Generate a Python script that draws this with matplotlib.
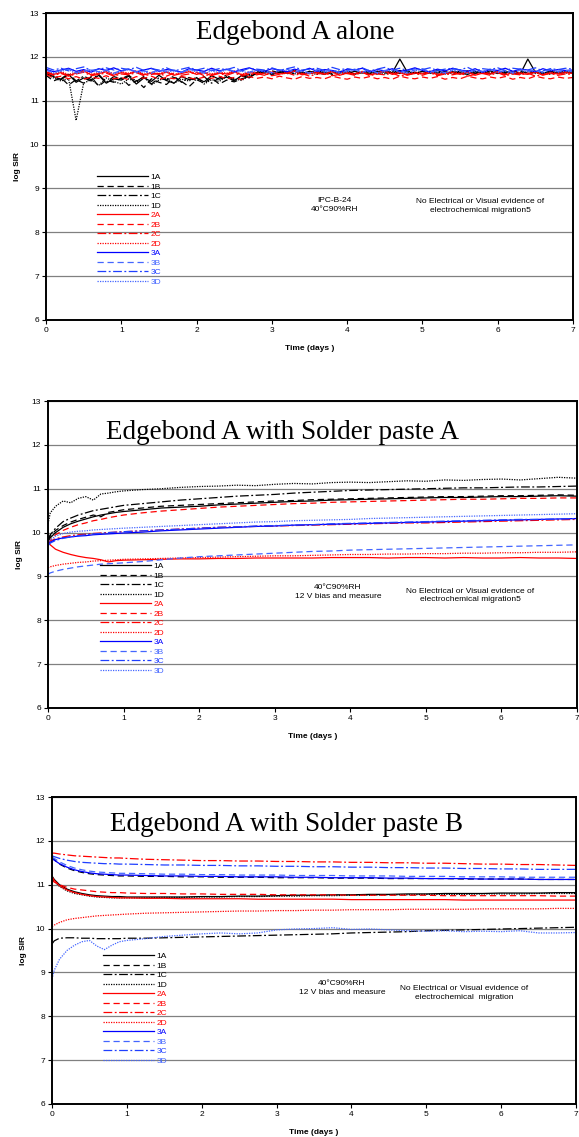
import numpy as np
import matplotlib
matplotlib.use("Agg")
import matplotlib.pyplot as plt

# ---------------- data (log SIR) ----------------
labels = ["1A", "1B", "1C", "1D", "2A", "2B", "2C", "2D", "3A", "3B", "3C", "3D"]
styles = ["-", (0, (5, 3)), (0, (7, 2, 1.5, 2)), (0, (1, 1))] * 3
colors = ["black"] * 4 + ["#ff0000"] * 4 + ["#0000ff", "#4466ff", "#1f3fff", "#4466ff"]

# panel 1: Edgebond A alone, sampled every 0.1 day
t1 = [i / 10 for i in range(71)]
p1 = {
    "1A": [11.62, 11.55, 11.48, 11.60, 11.42, 11.52, 11.45, 11.58, 11.40, 11.50,
           11.47, 11.56, 11.38, 11.52, 11.44, 11.58, 11.46, 11.40, 11.55, 11.48,
           11.52, 11.43, 11.57, 11.49, 11.54, 11.45, 11.58, 11.52,
           11.64, 11.68, 11.62, 11.66, 11.63, 11.69, 11.61, 11.67, 11.64, 11.60, 11.68, 11.65,
           11.62, 11.67, 11.63, 11.66, 11.61, 11.68, 11.64, 11.95, 11.65, 11.62,
           11.67, 11.63, 11.69, 11.62, 11.66, 11.64, 11.60, 11.67, 11.63, 11.68,
           11.62, 11.66, 11.64, 11.61, 11.95, 11.65, 11.62, 11.68, 11.63, 11.66, 11.64],
    "1B": [11.58, 11.45, 11.52, 11.36, 11.48, 11.40, 11.55, 11.33, 11.47, 11.42,
           11.52, 11.35, 11.46, 11.30, 11.50, 11.42, 11.37, 11.53, 11.44, 11.32,
           11.48, 11.40, 11.52, 11.38, 11.47, 11.43, 11.50, 11.55,
           11.62, 11.66, 11.60, 11.65, 11.68, 11.61, 11.64, 11.67, 11.62, 11.66, 11.60, 11.65,
           11.68, 11.62, 11.65, 11.61, 11.67, 11.63, 11.66, 11.62, 11.68, 11.64,
           11.61, 11.66, 11.63, 11.67, 11.60, 11.65, 11.68, 11.62, 11.66, 11.63,
           11.67, 11.61, 11.65, 11.68, 11.62, 11.66, 11.63, 11.67, 11.61, 11.65, 11.64],
    "1C": [11.65, 11.58, 11.50, 11.62, 11.45, 11.56, 11.48, 11.60, 11.42, 11.55,
           11.50, 11.58, 11.44, 11.55, 11.38, 11.52, 11.47, 11.56, 11.42, 11.53,
           11.46, 11.55, 11.40, 11.52, 11.58, 11.47, 11.55, 11.60,
           11.66, 11.63, 11.68, 11.64, 11.61, 11.67, 11.65, 11.62, 11.69, 11.64,
           11.66, 11.63, 11.67, 11.61, 11.65, 11.68, 11.62, 11.66, 11.64, 11.69,
           11.63, 11.65, 11.61, 11.67, 11.64, 11.66, 11.62, 11.68, 11.65, 11.63,
           11.67, 11.61, 11.66, 11.64, 11.68, 11.62, 11.65, 11.67, 11.63, 11.66,
           11.64, 11.68, 11.65],
    "1D": [11.60, 11.52, 11.45, 11.50, 10.55, 11.40, 11.48, 11.35, 11.52, 11.44,
           11.38, 11.50, 11.42, 11.55, 11.36, 11.47, 11.52, 11.40, 11.49, 11.45,
           11.53, 11.38, 11.48, 11.44, 11.55, 11.50, 11.46, 11.58,
           11.62, 11.66, 11.60, 11.64, 11.67, 11.61, 11.65, 11.63, 11.60, 11.66,
           11.62, 11.68, 11.63, 11.60, 11.65, 11.62, 11.67, 11.61, 11.64, 11.66,
           11.60, 11.63, 11.67, 11.62, 11.65, 11.61, 11.66, 11.63, 11.60, 11.67,
           11.62, 11.65, 11.63, 11.68, 11.61, 11.64, 11.66, 11.62, 11.65, 11.60,
           11.67, 11.63, 11.65],
    "2A": [11.66, 11.60, 11.64, 11.57, 11.63, 11.68, 11.59, 11.62, 11.66, 11.58,
           11.64, 11.61, 11.67, 11.59, 11.63, 11.60, 11.65, 11.58, 11.62, 11.66,
           11.60, 11.64, 11.57, 11.63, 11.61, 11.66, 11.59, 11.64, 11.62, 11.58,
           11.65, 11.61, 11.63, 11.67, 11.59, 11.62, 11.64, 11.60, 11.66, 11.58,
           11.63, 11.61, 11.65, 11.59, 11.62, 11.67, 11.60, 11.64, 11.58, 11.63,
           11.61, 11.66, 11.59, 11.62, 11.64, 11.60, 11.65, 11.58, 11.63, 11.61,
           11.66, 11.59, 11.64, 11.62, 11.60, 11.65, 11.58, 11.63, 11.61, 11.64, 11.62],
    "2B": [11.60, 11.52, 11.56, 11.50, 11.55, 11.49, 11.54, 11.51, 11.57, 11.50,
           11.53, 11.48, 11.55, 11.51, 11.56, 11.49, 11.53, 11.50, 11.55, 11.52,
           11.49, 11.54, 11.51, 11.56, 11.50, 11.53, 11.48, 11.55, 11.51, 11.54,
           11.50, 11.56, 11.52, 11.49, 11.55, 11.51, 11.53, 11.50, 11.56, 11.52,
           11.49, 11.54, 11.51, 11.55, 11.50, 11.53, 11.49, 11.56, 11.52, 11.50,
           11.54, 11.51, 11.55, 11.49, 11.53, 11.50, 11.56, 11.52, 11.50, 11.54,
           11.51, 11.55, 11.49, 11.53, 11.50, 11.56, 11.52, 11.50, 11.54, 11.51, 11.53],
    "2C": [11.64, 11.58, 11.62, 11.56, 11.61, 11.65, 11.57, 11.60, 11.63, 11.56,
           11.61, 11.59, 11.64, 11.57, 11.60, 11.62, 11.56, 11.63, 11.58, 11.61,
           11.65, 11.57, 11.60, 11.62, 11.58, 11.64, 11.56, 11.61, 11.59, 11.63,
           11.57, 11.60, 11.64, 11.58, 11.62, 11.56, 11.61, 11.63, 11.57, 11.60,
           11.62, 11.58, 11.65, 11.57, 11.61, 11.59, 11.63, 11.56, 11.60, 11.62,
           11.58, 11.64, 11.57, 11.61, 11.59, 11.63, 11.56, 11.60, 11.62, 11.58,
           11.64, 11.57, 11.61, 11.59, 11.63, 11.56, 11.60, 11.62, 11.58, 11.61, 11.60],
    "2D": [11.68, 11.62, 11.66, 11.60, 11.65, 11.69, 11.61, 11.64, 11.67, 11.62,
           11.66, 11.63, 11.68, 11.61, 11.65, 11.62, 11.67, 11.60, 11.64, 11.68,
           11.62, 11.66, 11.61, 11.65, 11.63, 11.68, 11.60, 11.66, 11.64, 11.62,
           11.67, 11.61, 11.65, 11.69, 11.62, 11.64, 11.66, 11.61, 11.68, 11.63,
           11.65, 11.62, 11.67, 11.60, 11.64, 11.68, 11.62, 11.66, 11.61, 11.65,
           11.63, 11.67, 11.61, 11.64, 11.66, 11.62, 11.68, 11.60, 11.65, 11.63,
           11.67, 11.61, 11.66, 11.64, 11.62, 11.67, 11.60, 11.65, 11.63, 11.66, 11.64],
    "3A": [11.72, 11.66, 11.70, 11.74, 11.67, 11.71, 11.65, 11.73, 11.69, 11.75,
           11.68, 11.72, 11.66, 11.70, 11.74, 11.67, 11.71, 11.69, 11.65, 11.73,
           11.70, 11.67, 11.74, 11.68, 11.72, 11.66, 11.71, 11.75, 11.69, 11.67,
           11.73, 11.70, 11.66, 11.72, 11.68, 11.74, 11.67, 11.71, 11.69, 11.65,
           11.72, 11.70, 11.74, 11.66, 11.71, 11.68, 11.73, 11.67, 11.70, 11.75,
           11.69, 11.66, 11.72, 11.68, 11.74, 11.70, 11.67, 11.73, 11.65, 11.71,
           11.69, 11.74, 11.67, 11.72, 11.70, 11.66, 11.73, 11.68, 11.71, 11.69, 11.70],
    "3B": [11.70, 11.65, 11.69, 11.72, 11.64, 11.68, 11.71, 11.66, 11.70, 11.63,
           11.69, 11.73, 11.66, 11.68, 11.64, 11.71, 11.67, 11.70, 11.65, 11.72,
           11.68, 11.64, 11.70, 11.66, 11.73, 11.67, 11.69, 11.65, 11.71, 11.68,
           11.64, 11.70, 11.72, 11.66, 11.69, 11.63, 11.71, 11.67, 11.70, 11.65,
           11.68, 11.72, 11.66, 11.70, 11.64, 11.69, 11.71, 11.67, 11.65, 11.70,
           11.73, 11.66, 11.68, 11.64, 11.71, 11.69, 11.65, 11.70, 11.67, 11.72,
           11.66, 11.69, 11.64, 11.71, 11.68, 11.70, 11.65, 11.72, 11.67, 11.69, 11.68],
    "3C": [11.76, 11.70, 11.74, 11.68, 11.73, 11.77, 11.69, 11.72, 11.75, 11.70,
           11.74, 11.71, 11.76, 11.69, 11.73, 11.70, 11.75, 11.68, 11.72, 11.76,
           11.70, 11.74, 11.69, 11.73, 11.71, 11.76, 11.68, 11.74, 11.72, 11.70,
           11.75, 11.69, 11.73, 11.77, 11.70, 11.72, 11.74, 11.69, 11.76, 11.71,
           11.73, 11.70, 11.75, 11.68, 11.72, 11.76, 11.70, 11.74, 11.69, 11.73,
           11.71, 11.75, 11.69, 11.72, 11.74, 11.70, 11.76, 11.68, 11.73, 11.71,
           11.75, 11.69, 11.74, 11.72, 11.70, 11.75, 11.68, 11.73, 11.71, 11.74, 11.72],
    "3D": [11.69, 11.63, 11.67, 11.71, 11.62, 11.66, 11.70, 11.64, 11.68, 11.61,
           11.67, 11.71, 11.64, 11.66, 11.62, 11.69, 11.65, 11.68, 11.63, 11.70,
           11.66, 11.62, 11.68, 11.64, 11.71, 11.65, 11.67, 11.63, 11.69, 11.66,
           11.62, 11.68, 11.70, 11.64, 11.67, 11.61, 11.69, 11.65, 11.68, 11.63,
           11.66, 11.70, 11.64, 11.68, 11.62, 11.67, 11.69, 11.65, 11.63, 11.68,
           11.71, 11.64, 11.66, 11.62, 11.69, 11.67, 11.63, 11.68, 11.65, 11.70,
           11.64, 11.67, 11.62, 11.69, 11.66, 11.68, 11.63, 11.70, 11.65, 11.67, 11.66],
}

# panels 2 and 3 share this time grid (days)
t23 = [0, 0.03, 0.1, 0.2, 0.3, 0.4, 0.5, 0.6, 0.7, 0.8, 0.9, 1.0,
       1.25, 1.5, 1.75, 2.0, 2.25, 2.5, 2.75, 3.0, 3.25, 3.5, 3.75, 4.0,
       4.25, 4.5, 4.75, 5.0, 5.25, 5.5, 5.75, 6.0, 6.25, 6.5, 6.75, 7.0]

# panel 2: Edgebond A with Solder paste A
p2 = {
    "1A": [9.80, 9.88, 10.00, 10.12, 10.20, 10.26, 10.31, 10.36, 10.40, 10.43, 10.46, 10.48,
           10.52, 10.56, 10.58, 10.60, 10.63, 10.65, 10.67, 10.69, 10.71, 10.72, 10.74, 10.75,
           10.76, 10.77, 10.78, 10.79, 10.80, 10.80, 10.81, 10.82, 10.82, 10.83, 10.84, 10.83],
    "1B": [9.82, 9.92, 10.05, 10.16, 10.24, 10.30, 10.35, 10.40, 10.36, 10.46, 10.49, 10.52,
           10.56, 10.60, 10.62, 10.64, 10.66, 10.68, 10.70, 10.72, 10.73, 10.75, 10.76, 10.77,
           10.78, 10.79, 10.80, 10.81, 10.82, 10.82, 10.83, 10.84, 10.84, 10.85, 10.86, 10.85],
    "1C": [9.85, 9.95, 10.10, 10.25, 10.33, 10.40, 10.45, 10.50, 10.53, 10.56, 10.59, 10.62,
           10.66, 10.70, 10.74, 10.77, 10.80, 10.83, 10.85, 10.87, 10.90, 10.92, 10.94, 10.96,
           10.97, 10.98, 10.99, 11.00, 11.01, 11.02, 11.02, 11.03, 11.04, 11.04, 11.05, 11.06],
    "1D": [10.20, 10.45, 10.60, 10.72, 10.68, 10.78, 10.82, 10.74, 10.88, 10.90, 10.93, 10.95,
           10.98, 11.00, 11.03, 11.05, 11.06, 11.08, 11.07, 11.10, 11.12, 11.11, 11.14, 11.15,
           11.14, 11.16, 11.18, 11.17, 11.20, 11.19, 11.21, 11.22, 11.20, 11.23, 11.26, 11.24],
    "2A": [9.80, 9.72, 9.62, 9.55, 9.50, 9.46, 9.43, 9.41, 9.38, 9.33, 9.36, 9.37,
           9.38, 9.39, 9.40, 9.40, 9.41, 9.41, 9.42, 9.42, 9.42, 9.42, 9.43, 9.43,
           9.43, 9.42, 9.43, 9.43, 9.42, 9.43, 9.42, 9.42, 9.43, 9.42, 9.42, 9.41],
    "2B": [9.75, 9.82, 9.95, 10.05, 10.12, 10.18, 10.22, 10.27, 10.30, 10.34, 10.37, 10.40,
           10.45, 10.49, 10.52, 10.55, 10.58, 10.60, 10.62, 10.64, 10.66, 10.67, 10.69, 10.70,
           10.71, 10.72, 10.73, 10.74, 10.75, 10.76, 10.76, 10.77, 10.78, 10.78, 10.79, 10.79],
    "2C": [9.75, 9.80, 9.86, 9.90, 9.93, 9.95, 9.96, 9.98, 9.99, 10.00, 10.01, 10.02,
           10.04, 10.06, 10.08, 10.10, 10.12, 10.13, 10.14, 10.15, 10.16, 10.17, 10.18, 10.19,
           10.20, 10.21, 10.22, 10.22, 10.23, 10.24, 10.25, 10.26, 10.27, 10.28, 10.29, 10.30],
    "2D": [9.20, 9.22, 9.25, 9.28, 9.30, 9.32, 9.33, 9.35, 9.36, 9.37, 9.38, 9.39,
           9.40, 9.41, 9.42, 9.43, 9.44, 9.45, 9.46, 9.47, 9.47, 9.48, 9.49, 9.50,
           9.50, 9.51, 9.51, 9.52, 9.52, 9.53, 9.53, 9.54, 9.54, 9.55, 9.55, 9.56],
    "3A": [9.72, 9.78, 9.84, 9.88, 9.90, 9.92, 9.93, 9.95, 9.96, 9.97, 9.98, 9.99,
           10.01, 10.04, 10.06, 10.08, 10.10, 10.12, 10.14, 10.15, 10.17, 10.18, 10.19, 10.20,
           10.21, 10.22, 10.23, 10.24, 10.25, 10.26, 10.27, 10.28, 10.29, 10.30, 10.31, 10.32],
    "3B": [9.05, 9.08, 9.12, 9.16, 9.19, 9.22, 9.24, 9.26, 9.28, 9.29, 9.30, 9.31,
           9.34, 9.38, 9.42, 9.45, 9.47, 9.49, 9.51, 9.53, 9.55, 9.57, 9.58, 9.60,
           9.61, 9.62, 9.63, 9.64, 9.65, 9.66, 9.67, 9.68, 9.69, 9.70, 9.71, 9.72],
    "3C": [9.70, 9.76, 9.82, 9.87, 9.90, 9.93, 9.95, 9.97, 9.98, 10.00, 10.01, 10.02,
           10.04, 10.06, 10.08, 10.10, 10.12, 10.13, 10.15, 10.16, 10.17, 10.18, 10.20, 10.21,
           10.22, 10.23, 10.24, 10.25, 10.26, 10.27, 10.28, 10.29, 10.30, 10.30, 10.31, 10.32],
    "3D": [9.75, 9.82, 9.92, 9.98, 10.01, 10.03, 10.04, 10.06, 10.07, 10.08, 10.09, 10.10,
           10.12, 10.14, 10.16, 10.18, 10.20, 10.22, 10.24, 10.25, 10.27, 10.28, 10.29, 10.30,
           10.32, 10.33, 10.34, 10.35, 10.36, 10.37, 10.38, 10.39, 10.40, 10.41, 10.42, 10.43],
}

# panel 3: Edgebond A with Solder paste B
p3 = {
    "1A": [11.20, 11.12, 11.00, 10.90, 10.84, 10.80, 10.77, 10.75, 10.74, 10.73, 10.73, 10.72,
           10.72, 10.72, 10.72, 10.73, 10.73, 10.74, 10.74, 10.75, 10.76, 10.76, 10.77, 10.77,
           10.78, 10.78, 10.79, 10.79, 10.80, 10.80, 10.80, 10.81, 10.81, 10.81, 10.82, 10.82],
    "1B": [11.62, 11.57, 11.47, 11.38, 11.32, 11.28, 11.25, 11.23, 11.22, 11.21, 11.20, 11.20,
           11.19, 11.19, 11.18, 11.18, 11.17, 11.17, 11.17, 11.16, 11.16, 11.16, 11.15, 11.15,
           11.15, 11.14, 11.14, 11.14, 11.14, 11.13, 11.13, 11.13, 11.13, 11.12, 11.12, 11.12],
    "1C": [9.65, 9.72, 9.78, 9.79, 9.79, 9.78, 9.78, 9.77, 9.77, 9.77, 9.77, 9.78,
           9.78, 9.79, 9.80, 9.81, 9.82, 9.83, 9.84, 9.85, 9.86, 9.87, 9.88, 9.90,
           9.91, 9.92, 9.93, 9.95, 9.96, 9.97, 9.98, 9.99, 10.00, 10.01, 10.02, 10.03],
    "1D": [11.15, 11.08, 10.96, 10.86, 10.80, 10.77, 10.74, 10.72, 10.71, 10.70, 10.70, 10.70,
           10.70, 10.71, 10.71, 10.72, 10.72, 10.73, 10.73, 10.74, 10.74, 10.75, 10.75, 10.76,
           10.76, 10.77, 10.77, 10.78, 10.78, 10.78, 10.79, 10.79, 10.79, 10.80, 10.80, 10.80],
    "2A": [11.18, 11.10, 10.98, 10.88, 10.82, 10.78, 10.75, 10.73, 10.72, 10.71, 10.70, 10.70,
           10.69, 10.69, 10.68, 10.68, 10.68, 10.68, 10.67, 10.67, 10.67, 10.67, 10.67, 10.66,
           10.66, 10.66, 10.66, 10.66, 10.66, 10.65, 10.65, 10.65, 10.65, 10.65, 10.65, 10.65],
    "2B": [11.10, 11.06, 11.00, 10.94, 10.90, 10.88, 10.86, 10.84, 10.83, 10.82, 10.82, 10.81,
           10.80, 10.80, 10.79, 10.79, 10.78, 10.78, 10.78, 10.77, 10.77, 10.77, 10.77, 10.76,
           10.76, 10.76, 10.76, 10.76, 10.75, 10.75, 10.75, 10.75, 10.75, 10.75, 10.74, 10.74],
    "2C": [11.72, 11.72, 11.70, 11.68, 11.66, 11.65, 11.64, 11.63, 11.62, 11.61, 11.61, 11.60,
           11.58, 11.57, 11.56, 11.55, 11.55, 11.54, 11.54, 11.53, 11.53, 11.52, 11.52, 11.51,
           11.51, 11.50, 11.50, 11.49, 11.49, 11.48, 11.47, 11.47, 11.46, 11.46, 11.45, 11.44],
    "2D": [10.05, 10.08, 10.14, 10.20, 10.23, 10.25, 10.27, 10.29, 10.30, 10.31, 10.32, 10.33,
           10.35, 10.36, 10.37, 10.38, 10.39, 10.40, 10.40, 10.41, 10.41, 10.42, 10.42, 10.43,
           10.43, 10.43, 10.44, 10.44, 10.44, 10.44, 10.45, 10.45, 10.45, 10.45, 10.46, 10.46],
    "3A": [11.60, 11.56, 11.48, 11.40, 11.34, 11.30, 11.27, 11.25, 11.24, 11.23, 11.22, 11.22,
           11.21, 11.20, 11.20, 11.19, 11.19, 11.18, 11.18, 11.18, 11.17, 11.17, 11.16, 11.16,
           11.16, 11.15, 11.15, 11.14, 11.14, 11.14, 11.13, 11.13, 11.13, 11.12, 11.12, 11.12],
    "3B": [11.63, 11.60, 11.52, 11.44, 11.38, 11.34, 11.31, 11.29, 11.28, 11.27, 11.26, 11.26,
           11.25, 11.24, 11.24, 11.23, 11.23, 11.22, 11.22, 11.22, 11.21, 11.21, 11.21, 11.20,
           11.20, 11.20, 11.19, 11.19, 11.19, 11.18, 11.18, 11.18, 11.17, 11.17, 11.17, 11.17],
    "3C": [11.66, 11.64, 11.60, 11.56, 11.53, 11.51, 11.50, 11.49, 11.48, 11.48, 11.47, 11.47,
           11.46, 11.45, 11.45, 11.44, 11.44, 11.43, 11.43, 11.42, 11.42, 11.41, 11.41, 11.40,
           11.40, 11.39, 11.39, 11.38, 11.38, 11.37, 11.37, 11.36, 11.36, 11.35, 11.35, 11.35],
    "3D": [8.85, 9.05, 9.30, 9.50, 9.62, 9.70, 9.73, 9.60, 9.52, 9.62, 9.70, 9.73,
           9.77, 9.82, 9.85, 9.88, 9.90, 9.88, 9.90, 9.97, 9.99, 10.00, 10.02, 9.98,
           9.99, 9.97, 9.95, 9.94, 9.95, 9.93, 9.94, 9.93, 9.95, 9.90, 9.90, 9.91],
}

titles = ["Edgebond A alone", "Edgebond A with Solder paste A", "Edgebond A with Solder paste B"]
cond_text = ["IPC-B-24\n40°C90%RH", "40°C90%RH\n12 V bias and measure", "40°C90%RH\n12 V bias and measure"]
note_text = ["No Electrical or Visual evidence of\nelectrochemical migration5",
             "No Electrical or Visual evidence of\nelectrochemical migration5",
             "No Electrical or Visual evidence of\nelectrochemical  migration"]

# ---------------- layout ----------------
plt.rcParams["font.family"] = ["Liberation Sans", "DejaVu Sans"]
fig = plt.figure(figsize=(5.79, 11.37), dpi=100)

W, H = 579, 1137
# (left px, top px, width px) for each panel, height is 307 px
boxes = [(46, 13, 527), (48, 401, 529), (52, 797, 524)]
title_pos = [(0.474, 0.937), (0.444, 0.897), (0.447, 0.910)]
cond_pos = [(0.548, 0.375), (0.548, 0.378), (0.553, 0.378)]
note_pos = [(0.824, 0.372), (0.798, 0.366), (0.786, 0.362)]
legend_pos = [(0.097, 0.478), (0.098, 0.474), (0.098, 0.494)]

for k, (times, series) in enumerate([(t1, p1), (t23, p2), (t23, p3)]):
    lx, ty, wd = boxes[k]
    ax = fig.add_axes([lx / W, (H - ty - 307) / H, wd / W, 307 / H])

    for i, lab in enumerate(labels):
        ax.plot(times, series[lab], color=colors[i], linestyle=styles[i],
                linewidth=0.9, label=lab)

    ax.set_xlim(0, 7)
    ax.set_ylim(6, 13)
    ax.set_xticks(range(0, 8))
    ax.set_yticks(range(6, 14))
    ax.yaxis.grid(True, color="#808080", linewidth=0.9)
    ax.set_axisbelow(True)
    ax.tick_params(labelsize=6, length=3, width=0.8, pad=2)
    for s in ax.spines.values():
        s.set_linewidth(1.4)

    ax.set_xlabel("Time (days )", fontsize=6, fontweight="bold", labelpad=8)
    ax.set_ylabel("log SIR", fontsize=6, fontweight="bold", labelpad=6)

    ax.text(title_pos[k][0], title_pos[k][1], titles[k], transform=ax.transAxes,
            ha="center", va="center", fontsize=19.5, family="Liberation Serif")
    ax.text(cond_pos[k][0], cond_pos[k][1], cond_text[k], transform=ax.transAxes,
            ha="center", va="center", fontsize=6, linespacing=1.3)
    ax.text(note_pos[k][0], note_pos[k][1], note_text[k], transform=ax.transAxes,
            ha="center", va="center", fontsize=6, linespacing=1.3)

    ax.legend(loc="upper left", bbox_to_anchor=legend_pos[k], frameon=False,
              fontsize=6, handlelength=6.1, handletextpad=0.3,
              labelspacing=0.2, borderpad=0, borderaxespad=0,
              labelcolor="linecolor")

fig.savefig("out.png", dpi=100)
